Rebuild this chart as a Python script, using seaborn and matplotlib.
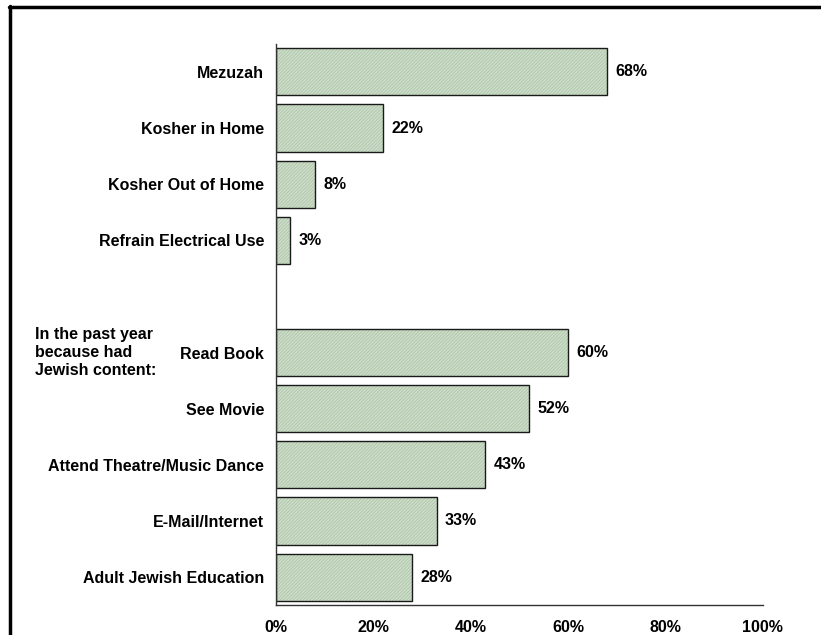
import matplotlib
matplotlib.use("Agg")
import matplotlib.pyplot as plt
from matplotlib.lines import Line2D
from matplotlib.transforms import blended_transform_factory
import seaborn as sns
import pandas as pd

categories = [
    "Mezuzah",
    "Kosher in Home",
    "Kosher Out of Home",
    "Refrain Electrical Use",
    "Read Book",
    "See Movie",
    "Attend Theatre/Music Dance",
    "E-Mail/Internet",
    "Adult Jewish Education",
]
values = [68, 22, 8, 3, 60, 52, 43, 33, 28]
order = categories[:4] + [" "] + categories[4:]
xticks = [0, 20, 40, 60, 80, 100]
xtick_labels = ["0%", "20%", "40%", "60%", "80%", "100%"]
group_note = "In the past year\nbecause had\nJewish content:"

df = pd.DataFrame({"item": categories, "pct": values})

FS = 11.5

sns.set_theme(style="white")
plt.rcParams["font.family"] = ["Liberation Sans", "DejaVu Sans"]
plt.rcParams["font.weight"] = "bold"
plt.rcParams["text.color"] = "black"
plt.rcParams["xtick.color"] = "black"
plt.rcParams["ytick.color"] = "black"
plt.rcParams["hatch.linewidth"] = 0.6

fig = plt.figure(figsize=(8.21, 6.35), dpi=100)
ax = fig.add_axes([0.336, 0.047, 0.593, 0.884])

# hatched fill
sns.barplot(data=df, x="pct", y="item", order=order, orient="h",
            color="#cddec9", edgecolor="#aec3aa", linewidth=0, hatch="//////////",
            width=0.84, saturation=1, ax=ax)
# outlines
sns.barplot(data=df, x="pct", y="item", order=order, orient="h",
            fill=False, edgecolor="#1a1a1a", linewidth=1.0,
            width=0.84, ax=ax)

for cont in ax.containers[1:]:
    ax.bar_label(cont, labels=[f"{v:g}%" for v in cont.datavalues],
                 padding=6, fontsize=FS, fontweight="bold", color="black")

ax.set_xlim(0, 100)
ax.set_ylim(len(order) - 0.5, -0.5)
ax.set_xticks(xticks)
ax.set_xticklabels(xtick_labels, fontsize=FS, fontweight="bold")
ax.tick_params(axis="x", length=0, pad=11)
ax.tick_params(axis="y", length=0, pad=8.5, labelsize=FS)
for lab in ax.get_yticklabels():
    lab.set_fontweight("bold")
ax.set_xlabel("")
ax.set_ylabel("")

for side in ["top", "right"]:
    ax.spines[side].set_visible(False)
for side in ["left", "bottom"]:
    ax.spines[side].set_color("#333333")
    ax.spines[side].set_linewidth(1.0)

trans = blended_transform_factory(fig.transFigure, ax.transData)
ax.text(0.043, order.index("Read Book"), group_note, transform=trans,
        ha="left", va="center", fontsize=FS, fontweight="bold",
        linespacing=1.25)

# outer frame
fig.add_artist(Line2D([0.0115, 1.0], [0.989, 0.989], color="black",
                      linewidth=2.5, transform=fig.transFigure))
fig.add_artist(Line2D([0.0125, 0.0125], [0.0, 0.99], color="black",
                      linewidth=2.5, transform=fig.transFigure))

fig.savefig("out.png", dpi=100)
